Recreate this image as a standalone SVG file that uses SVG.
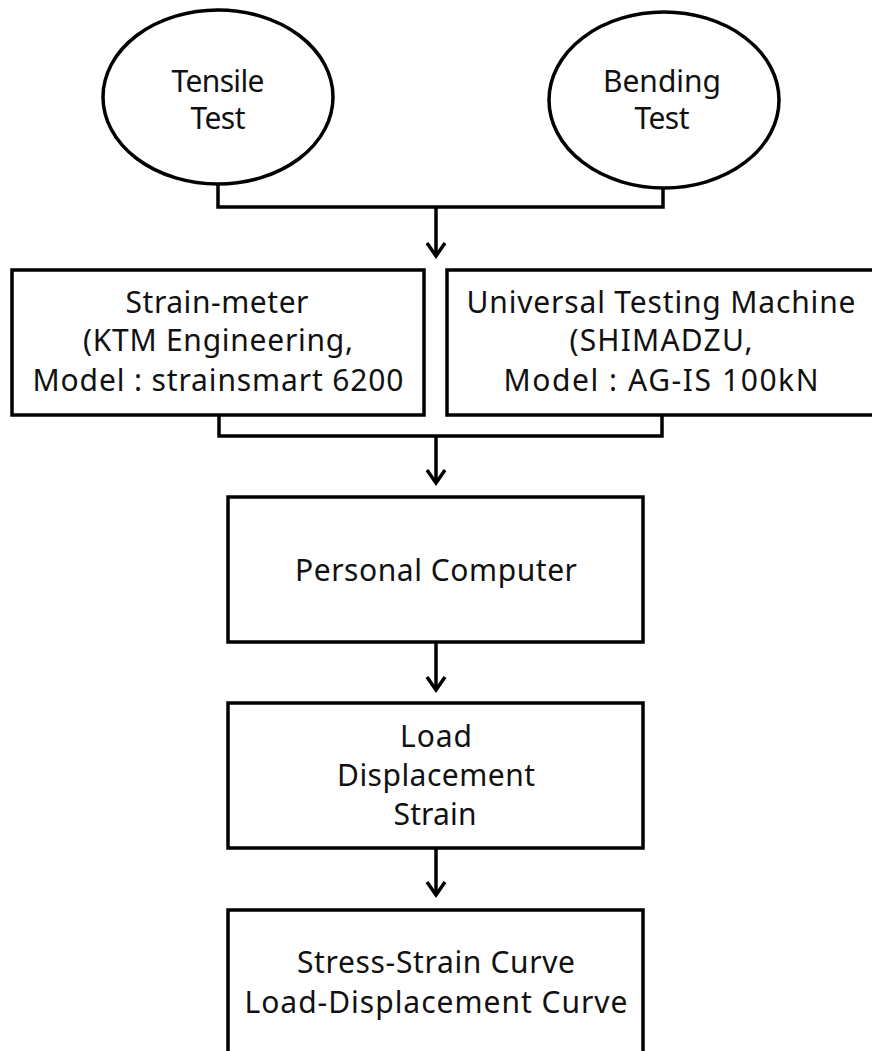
<svg xmlns="http://www.w3.org/2000/svg" width="872" height="1051" viewBox="0 0 872 1051">
<style>
.shape{fill:#fff;stroke:#000;stroke-width:3.5}
.conn{fill:none;stroke:#000;stroke-width:3.5;stroke-linejoin:miter}
.head{fill:none;stroke:#000;stroke-width:3.5}
text{font-family:"Noto Sans","Open Sans",sans-serif;font-size:30px;fill:#111;text-anchor:middle}
</style>
<rect width="872" height="1051" fill="#fff"/>
<g id="connectors">
<polyline class="conn" points="218,185 218,207 663,207 663,188"/>
<line class="conn" x1="436" y1="207" x2="436" y2="256"/>
<polyline class="head" points="427,243 436,256 445,243"/>
<polyline class="conn" points="219,415 219,436 662,436 662,415"/>
<line class="conn" x1="436" y1="436" x2="436" y2="483"/>
<polyline class="head" points="427,470 436,483 445,470"/>
<line class="conn" x1="436" y1="642" x2="436" y2="690"/>
<polyline class="head" points="427,677 436,690 445,677"/>
<line class="conn" x1="436" y1="848" x2="436" y2="895"/>
<polyline class="head" points="427,882 436,895 445,882"/>
</g>
<g id="tensile">
<ellipse class="shape" cx="218" cy="97" rx="115" ry="87"/>
<text x="218" y="92" textLength="93">Tensile</text>
<text x="218" y="129" textLength="55">Test</text>
</g>
<g id="bending">
<ellipse class="shape" cx="664" cy="100" rx="115" ry="88"/>
<text x="662" y="92" textLength="118">Bending</text>
<text x="662" y="129" textLength="55">Test</text>
</g>
<g id="strainmeter">
<rect class="shape" x="12" y="270" width="412" height="145"/>
<text x="217" y="313" textLength="183">Strain-meter</text>
<text x="218" y="351" textLength="270">(KTM Engineering,</text>
<text x="218" y="391" textLength="371">Model : strainsmart 6200</text>
</g>
<g id="utm">
<rect class="shape" x="447" y="270" width="430" height="145"/>
<text x="661" y="313" textLength="389">Universal Testing Machine</text>
<text x="661" y="351" textLength="183">(SHIMADZU,</text>
<text x="661" y="391" textLength="315">Model : AG-IS 100kN</text>
</g>
<g id="pc">
<rect class="shape" x="228" y="497" width="415" height="145"/>
<text x="436" y="581" textLength="282">Personal Computer</text>
</g>
<g id="data">
<rect class="shape" x="228" y="703" width="415" height="145"/>
<text x="436" y="747" textLength="72">Load</text>
<text x="436" y="786" textLength="198">Displacement</text>
<text x="435" y="825" textLength="83">Strain</text>
</g>
<g id="curves">
<rect class="shape" x="228" y="910" width="415" height="150"/>
<text x="436" y="973" textLength="278">Stress-Strain Curve</text>
<text x="436" y="1013" textLength="383">Load-Displacement Curve</text>
</g>
</svg>
